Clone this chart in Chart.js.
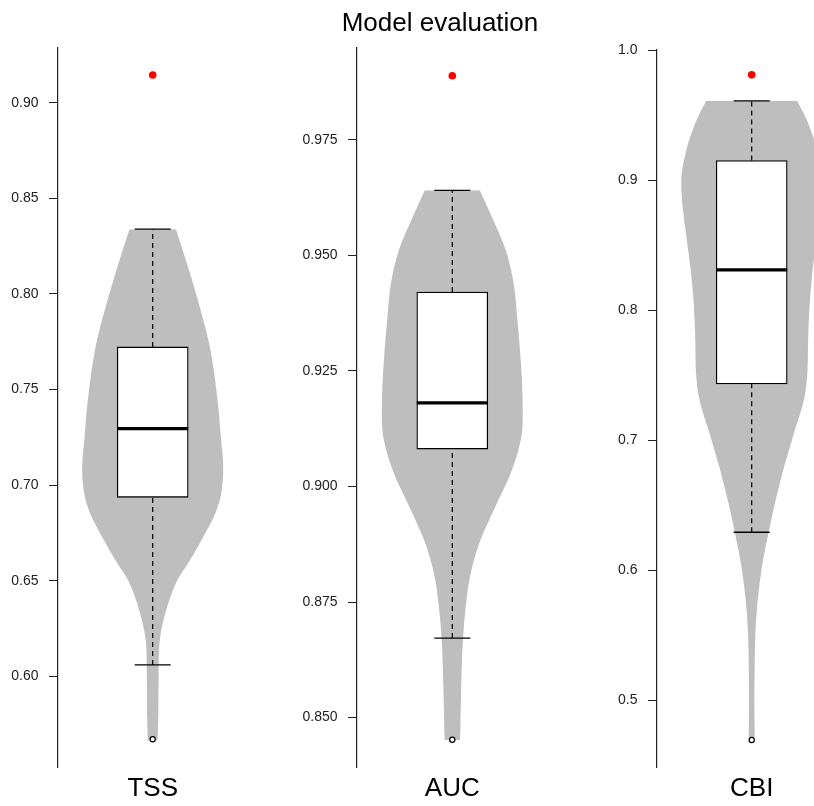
<!DOCTYPE html>
<html>
<head>
<meta charset="utf-8">
<title>Model evaluation</title>
<script src="https://cdn.jsdelivr.net/npm/chart.js@4.4.1/dist/chart.umd.min.js"></script>
<style>
    body { margin: 0; background: #fff; }
    #wrap { position: relative; width: 814px; height: 806px; overflow: hidden; }
    #wrap canvas { position: absolute; top: 0; }
</style>
</head>
<body>
<div id="wrap">
    <canvas id="tssChart" width="300" height="806" style="left:0px"></canvas>
    <canvas id="aucChart" width="280" height="806" style="left:300px"></canvas>
    <canvas id="cbiChart" width="214" height="806" style="left:600px"></canvas>
</div>
<script>
// Metrics shown in the three panels
const metrics = ['TSS', 'AUC', 'CBI'];

// Box plot statistics per metric
const whiskerLow = [0.6059, 0.8672, 0.6292];
const quartile1 = [0.6936, 0.9081, 0.7432];
const medians = [0.7295, 0.9181, 0.8309];
const quartile3 = [0.7723, 0.9421, 0.9150];
const whiskerHigh = [0.8339, 0.9641, 0.9609];
const outliers = [0.5670, 0.8452, 0.4695];
// Red points (single reference score)
const referenceScores = [0.9146, 0.9889, 0.9809];

// Violin outlines: value and relative density (1 = widest)
const tssViolinY = [0.5665, 0.5808, 0.6059, 0.6189, 0.6331, 0.6503, 0.6590, 0.6678, 0.6854, 0.6936, 0.7027, 0.7096, 0.7237, 0.7445, 0.7724, 0.7969, 0.8143, 0.8339];
const tssViolinDensity = [0.07, 0.08, 0.085, 0.10, 0.18, 0.35, 0.50, 0.64, 0.89, 0.96, 0.995, 1.0, 0.97, 0.92, 0.81, 0.64, 0.50, 0.33];
const aucViolinY = [0.8451, 0.8523, 0.8667, 0.8739, 0.8812, 0.8884, 0.8956, 0.9029, 0.9100, 0.9151, 0.9224, 0.9295, 0.9367, 0.9440, 0.9511, 0.9584, 0.9641];
const aucViolinDensity = [0.11, 0.12, 0.15, 0.19, 0.26, 0.40, 0.61, 0.83, 0.97, 1.0, 0.99, 0.96, 0.92, 0.87, 0.76, 0.56, 0.39];
const cbiViolinY = [0.4718, 0.5002, 0.5258, 0.5518, 0.5771, 0.6027, 0.6294, 0.6540, 0.6796, 0.7056, 0.7309, 0.7517, 0.7771, 0.8027, 0.8286, 0.8540, 0.8796, 0.8978, 0.9180, 0.9439, 0.9609];
const cbiViolinDensity = [0.042, 0.038, 0.042, 0.052, 0.085, 0.145, 0.24, 0.34, 0.46, 0.60, 0.74, 0.79, 0.80, 0.82, 0.86, 0.92, 0.98, 1.0, 0.95, 0.80, 0.645];

// Axis ranges and tick labels
const axisMin = [0.5525, 0.8393, 0.4487];
const axisMax = [0.9287, 0.9949, 1.0];
const tssTicks = ['0.60', '0.65', '0.70', '0.75', '0.80', '0.85', '0.90'];
const aucTicks = ['0.850', '0.875', '0.900', '0.925', '0.950', '0.975'];
const cbiTicks = ['0.5', '0.6', '0.7', '0.8', '0.9', '1.0'];

// Sizes (pixels)
const VIOLIN_HALF = 70.5;
const BOX_HALF = 35.5;
const CAP_HALF = 18;
const PLOT_BOTTOM = 767;
const CANVAS_H = 806;
const VIOLIN_GREY = '#bebebe';
const FONT = "'Liberation Sans', Arial, Helvetica, sans-serif";

Chart.defaults.font.family = FONT;
Chart.defaults.color = '#222';

// Panel layout: canvas left/width, y-axis position, violin centre, top padding
const panels = [
    { canvas: 'tssChart', left: 0, width: 300, axisX: 58, center: 152.7, top: 48, ticks: tssTicks, vy: tssViolinY, vd: tssViolinDensity },
    { canvas: 'aucChart', left: 300, width: 280, axisX: 357, center: 452.3, top: 0, ticks: aucTicks, vy: aucViolinY, vd: aucViolinDensity, title: 'Model evaluation' },
    { canvas: 'cbiChart', left: 600, width: 214, axisX: 657, center: 751.7, top: 50, ticks: cbiTicks, vy: cbiViolinY, vd: cbiViolinDensity }
];

// Build a simple two point line dataset
function segment(points, width, dash) {
    return {
        type: 'line',
        data: points,
        borderColor: '#000',
        borderWidth: width,
        borderDash: dash || [],
        pointRadius: 0,
        fill: false,
        order: 3
    };
}

function buildPanel(i) {
    const p = panels[i];
    const ctx = document.getElementById(p.canvas).getContext('2d');
    const xMin = p.axisX - p.center;
    const xMax = p.left + p.width - p.center;
    const tickValues = p.ticks.map(Number);

    const rightSide = p.vy.map((v, k) => ({ x: p.vd[k] * VIOLIN_HALF, y: v }));
    const leftSide = p.vy.map((v, k) => ({ x: -p.vd[k] * VIOLIN_HALF, y: v }));

    const datasets = [
        // violin halves, filled between each other
        { type: 'line', indexAxis: 'y', data: rightSide, fill: '+1', backgroundColor: VIOLIN_GREY,
          borderWidth: 0, pointRadius: 0, cubicInterpolationMode: 'monotone', order: 10 },
        { type: 'line', indexAxis: 'y', data: leftSide, fill: false, borderWidth: 0,
          pointRadius: 0, cubicInterpolationMode: 'monotone', order: 11 },
        // interquartile box
        { type: 'bar', data: [{ x: 0, y: [quartile1[i], quartile3[i]] }], backgroundColor: '#fff',
          borderColor: '#000', borderWidth: 1.3, borderSkipped: false, barThickness: BOX_HALF * 2, order: 5 },
        // whiskers
        segment([{ x: 0, y: quartile3[i] }, { x: 0, y: whiskerHigh[i] }], 1.2, [5, 4]),
        segment([{ x: 0, y: whiskerLow[i] }, { x: 0, y: quartile1[i] }], 1.2, [5, 4]),
        segment([{ x: -CAP_HALF, y: whiskerHigh[i] }, { x: CAP_HALF, y: whiskerHigh[i] }], 1.3),
        segment([{ x: -CAP_HALF, y: whiskerLow[i] }, { x: CAP_HALF, y: whiskerLow[i] }], 1.3),
        // median
        segment([{ x: -BOX_HALF, y: medians[i] }, { x: BOX_HALF, y: medians[i] }], 3.2),
        // outlier
        { type: 'line', data: [{ x: 0, y: outliers[i] }], showLine: false, pointRadius: 2.6,
          pointBackgroundColor: '#fff', pointBorderColor: '#000', pointBorderWidth: 1.2, order: 1 },
        // reference score
        { type: 'line', data: [{ x: 0, y: referenceScores[i] }], showLine: false, pointRadius: 3.8,
          pointBackgroundColor: '#ff0000', pointBorderWidth: 0, order: 1 }
    ];

    new Chart(ctx, {
        type: 'line',
        data: { datasets: datasets },
        options: {
            responsive: false,
            animation: false,
            layout: { autoPadding: false, padding: { top: p.top, bottom: 2, left: 0, right: 0 } },
            plugins: {
                legend: { display: false },
                tooltip: { enabled: false },
                title: {
                    display: !!p.title,
                    text: p.title || '',
                    color: '#000',
                    font: { size: 26, weight: 'normal' },
                    padding: { top: 8.4, bottom: 8.4 }
                }
            },
            scales: {
                x: {
                    type: 'linear',
                    min: xMin,
                    max: xMax,
                    offset: false,
                    grid: { display: false, drawTicks: false },
                    border: { display: false },
                    afterBuildTicks: function(scale) {
                        scale.ticks = [{ value: 0 }];
                    },
                    afterFit: function(scale) {
                        // keep the plot area flush with the canvas edges
                        scale.paddingLeft = 0;
                        scale.paddingRight = 0;
                        scale.height = CANVAS_H - 2 - PLOT_BOTTOM;
                    },
                    ticks: {
                        autoSkip: false,
                        maxRotation: 0,
                        padding: 6,
                        color: '#000',
                        font: { size: 26 },
                        callback: function() { return metrics[i]; }
                    }
                },
                y: {
                    type: 'linear',
                    min: axisMin[i],
                    max: axisMax[i],
                    afterBuildTicks: function(scale) {
                        scale.ticks = tickValues.map(v => ({ value: v }));
                    },
                    afterFit: function(scale) {
                        scale.width = p.axisX - p.left;
                    },
                    grid: { display: true, drawOnChartArea: false, drawTicks: true, tickLength: 9, color: '#222', lineWidth: 1 },
                    border: { display: true, color: '#222', width: 1.2 },
                    ticks: {
                        autoSkip: false,
                        padding: 10.5,
                        font: { size: 14 },
                        callback: function(value, index) { return p.ticks[index]; }
                    }
                }
            }
        }
    });
}

document.addEventListener('DOMContentLoaded', function() {
    panels.forEach((p, i) => buildPanel(i));
});
</script>
</body>
</html>
